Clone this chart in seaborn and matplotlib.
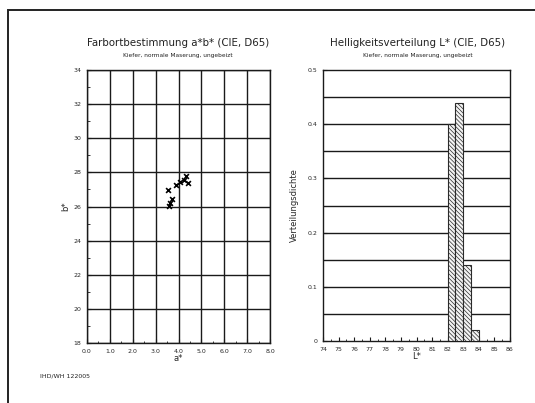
import numpy as np
import pandas as pd
import matplotlib
matplotlib.use("Agg")
import matplotlib.pyplot as plt
from matplotlib.patches import Rectangle
from matplotlib.ticker import MultipleLocator, FixedLocator
import seaborn as sns

# Colour coordinates of the measured samples (a*, b*)
a_star = [3.54, 3.89, 4.06, 4.24, 4.32, 4.41, 3.71, 3.62, 3.58]
b_star = [26.97, 27.26, 27.43, 27.55, 27.79, 27.38, 26.44, 26.20, 26.03]

# Lightness distribution: bin left edges (L*) and density per 0.5 bin
l_bin_left = [82.0, 82.5, 83.0, 83.5]
l_density = [0.40, 0.44, 0.14, 0.02]
l_bin_width = 0.5

a_ticks = [0.0, 1.0, 2.0, 3.0, 4.0, 5.0, 6.0, 7.0, 8.0]
b_ticks = [18, 20, 22, 24, 26, 28, 30, 32, 34]
l_ticks = list(range(74, 87))
d_ticks = [0, 0.1, 0.2, 0.3, 0.4, 0.5]

title_left = "Farbortbestimmung a*b* (CIE, D65)"
title_right = "Helligkeitsverteilung L* (CIE, D65)"
subtitle = "Kiefer, normale Maserung, ungebeizt"
footer = "IHD/WH 122005"

sns.set_style("ticks")
plt.rcParams["font.family"] = ["DejaVu Sans"]
plt.rcParams["hatch.linewidth"] = 0.5
plt.rcParams["hatch.color"] = "#444444"

W, H = 535, 403
fig = plt.figure(figsize=(W / 100, H / 100), dpi=100)
fig.patch.set_facecolor("white")


def box(x0, y_top, x1, y_bot):
    return [x0 / W, 1 - y_bot / H, (x1 - x0) / W, (y_bot - y_top) / H]


# outer frame
fig.add_artist(Rectangle((8 / W, -0.05), 1.2, 1 - 10 / H + 0.05,
                         transform=fig.transFigure, fill=False,
                         edgecolor="#222222", linewidth=1.4))

# ---------------- left: a*b* scatter ----------------
ax1 = fig.add_axes(box(87, 70, 270, 343))
df_ab = pd.DataFrame({"a": a_star, "b": b_star})
sns.scatterplot(data=df_ab, x="a", y="b", ax=ax1, marker="x", s=12,
                color="black", linewidth=1.2, zorder=5)
ax1.set_xlim(0, 8)
ax1.set_ylim(18, 34)
ax1.xaxis.set_major_locator(FixedLocator(a_ticks))
ax1.yaxis.set_major_locator(FixedLocator(b_ticks))
ax1.xaxis.set_minor_locator(MultipleLocator(0.5))
ax1.yaxis.set_minor_locator(MultipleLocator(1.0))
ax1.set_xticklabels([f"{v:.1f}" for v in a_ticks])
ax1.set_yticklabels([str(v) for v in b_ticks])
ax1.grid(True, which="major", color="#1a1a1a", linewidth=1.0)
ax1.set_xlabel("a*", fontsize=6, labelpad=0)
ax1.set_ylabel("b*", fontsize=6, labelpad=2)

# ---------------- right: L* histogram ----------------
ax2 = fig.add_axes(box(323, 70, 510, 341))
centers = [x + l_bin_width / 2 for x in l_bin_left]
edges = l_bin_left + [l_bin_left[-1] + l_bin_width]
sns.histplot(x=centers, weights=l_density, bins=edges, ax=ax2,
             stat="count", color="#f4f4f4", edgecolor="#1a1a1a",
             linewidth=0.8, alpha=1.0, zorder=3)
for p in ax2.patches:
    p.set_hatch("\\\\\\\\\\\\\\\\")
    p.set_edgecolor("#2a2a2a")
ax2.set_xlim(74, 86)
ax2.set_ylim(0, 0.5)
ax2.xaxis.set_major_locator(FixedLocator(l_ticks))
ax2.xaxis.set_minor_locator(MultipleLocator(0.5))
ax2.yaxis.set_major_locator(FixedLocator(d_ticks))
ax2.set_xticklabels([str(v) for v in l_ticks])
ax2.set_yticklabels(["0"] + [f"{v:.1f}" for v in d_ticks[1:]])
for yv in np.arange(0.05, 0.5, 0.05):
    ax2.axhline(yv, color="#1a1a1a", linewidth=1.0, zorder=1)
ax2.grid(False)
ax2.set_xlabel("L*", fontsize=6, labelpad=0)
ax2.set_ylabel("Verteilungsdichte", fontsize=6, labelpad=6)

for ax in (ax1, ax2):
    ax.tick_params(axis="both", which="major", direction="in", length=3,
                   width=0.8, labelsize=4.5, pad=4, color="#1a1a1a")
    ax.tick_params(axis="both", which="minor", direction="in", length=1.8,
                   width=0.6, color="#1a1a1a")
    for s in ax.spines.values():
        s.set_visible(True)
        s.set_color("#1a1a1a")
        s.set_linewidth(1.0)
    ax.set_facecolor("white")

# titles
fig.text(178 / W, 1 - 43 / H, title_left, ha="center", va="center",
         fontsize=7.4, color="#222222")
fig.text(178 / W, 1 - 56 / H, subtitle, ha="center", va="center",
         fontsize=4.2, color="#222222")
fig.text(418 / W, 1 - 43 / H, title_right, ha="center", va="center",
         fontsize=7.4, color="#222222")
fig.text(418 / W, 1 - 56 / H, subtitle, ha="center", va="center",
         fontsize=4.2, color="#222222")
fig.text(40 / W, 1 - 376 / H, footer, ha="left", va="center",
         fontsize=4.5, color="#222222")

fig.savefig("out.png", dpi=100, facecolor="white")
